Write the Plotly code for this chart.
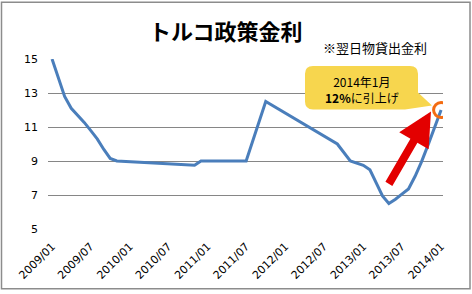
import plotly.graph_objects as go

# ---- data ----
dates = ["2009-01-01", "2009-02-01", "2009-03-01", "2009-04-01", "2009-05-01",
         "2009-06-01", "2009-07-01", "2009-08-01", "2009-09-01", "2009-10-01",
         "2009-11-01", "2010-11-01", "2010-12-01", "2011-07-01", "2011-10-01",
         "2012-09-01", "2012-11-01", "2012-12-01", "2013-01-01", "2013-02-01",
         "2013-03-01", "2013-04-01", "2013-05-01", "2013-06-01", "2013-07-01",
         "2013-08-01", "2013-09-01", "2013-10-01", "2013-11-01", "2013-12-01",
         "2014-01-01"]
rates = [15.0, 13.85, 12.8, 12.1, 11.72, 11.27, 10.8, 10.3, 9.68, 9.15,
         9.0, 8.75, 9.0, 9.0, 12.5,
         10.0, 9.0, 8.88, 8.75, 8.48,
         7.75, 6.95, 6.5, 6.75, 7.05,
         7.35, 8.1, 8.95, 9.95, 10.95,
         12.0]

tick_dates = ["2009-01-01", "2009-07-01", "2010-01-01", "2010-07-01", "2011-01-01",
              "2011-07-01", "2012-01-01", "2012-07-01", "2013-01-01", "2013-07-01",
              "2014-01-01"]
tick_text = ["2009/01", "2009/07", "2010/01", "2010/07", "2011/01", "2011/07",
             "2012/01", "2012/07", "2013/01", "2013/07", "2014/01"]
y_ticks = [5, 7, 9, 11, 13, 15]
y_grid = [5, 7, 9, 11, 13]

title_text = "トルコ政策金利"
note_text = "※翌日物貸出金利"
callout_text = "2014年1月<br><b>12%</b>に引上げ"

# ---- layout geometry (pixels) ----
WIDTH, HEIGHT = 472, 294
L, R, T, B = 48, 443, 59, 231
PW, PH = R - L, B - T


def px(x):
    return (x - L) / PW


def py(y):
    return (B - y) / PH


fig = go.Figure()
fig.add_trace(go.Scatter(
    x=dates, y=rates, mode="lines",
    line=dict(color="#4A7EBB", width=3),
    hoverinfo="skip", showlegend=False,
))

# callout bubble (rounded rect with tail)
bx0, bx1, by0, by1, r = 305, 418, 66, 110, 8
pts = [
    ("M", bx0 + r, by0),
    ("L", bx1 - r, by0),
    ("Q", bx1, by0, bx1, by0 + r),
    ("L", bx1, 93),
    ("L", 432, 106),
    ("L", 405, by1),
    ("L", bx0 + r, by1),
    ("Q", bx0, by1, bx0, by1 - r),
    ("L", bx0, by0 + r),
    ("Q", bx0, by0, bx0 + r, by0),
]
path = ""
for p in pts:
    cmd = p[0]
    coords = p[1:]
    s = []
    for i in range(0, len(coords), 2):
        s.append(f"{px(coords[i]):.5f},{py(coords[i+1]):.5f}")
    path += cmd + " " + " ".join(s) + " "
path += "Z"

shapes = [
    dict(type="rect", xref="paper", yref="paper",
         x0=px(1.5), x1=px(470), y0=py(291.5), y1=py(1.5),
         line=dict(color="#8C8C8C", width=1.5), fillcolor="rgba(0,0,0,0)",
         layer="below"),
    dict(type="path", xref="paper", yref="paper", path=path,
         fillcolor="#F7D64E", line=dict(width=0), layer="above"),
    dict(type="circle", xref="x", yref="y", xsizemode="pixel", ysizemode="pixel",
         xanchor=dates[-1], yanchor=rates[-1], x0=-7.5, x1=7.5, y0=-7.5, y1=7.5,
         line=dict(color="#F36C12", width=3), fillcolor="rgba(0,0,0,0)"),
]

annotations = [
    dict(text=f"<b>{title_text}</b>", xref="paper", yref="paper",
         x=px(226), y=py(30), xanchor="center", yanchor="middle", showarrow=False,
         font=dict(family="Noto Sans CJK JP", size=22, color="#000000")),
    dict(text=note_text, xref="paper", yref="paper",
         x=px(375), y=py(47), xanchor="center", yanchor="middle", showarrow=False,
         font=dict(family="Noto Sans CJK JP", size=13, color="#000000")),
    dict(text=callout_text, xref="paper", yref="paper",
         x=px(362), y=py(90), xanchor="center", yanchor="middle", showarrow=False,
         align="center",
         font=dict(family="Noto Sans CJK JP", size=12, color="#000000")),
    dict(text="", xref="paper", yref="paper", x=px(431), y=py(112),
         ax=-43, ay=74, showarrow=True, arrowhead=2, arrowsize=0.85,
         arrowwidth=8, arrowcolor="#E30000", standoff=0),
]

fig.update_layout(
    width=WIDTH, height=HEIGHT,
    margin=dict(l=L, r=WIDTH - R, t=T, b=HEIGHT - B, pad=0),
    paper_bgcolor="white", plot_bgcolor="white",
    shapes=shapes, annotations=annotations,
    xaxis=dict(
        type="date", range=["2008-12-13", "2014-01-10"],
        tickmode="array", tickvals=tick_dates, ticktext=tick_text,
        tickangle=-45, showgrid=False, zeroline=False, showline=False,
        ticks="", ticklabelstandoff=8,
        tickfont=dict(family="DejaVu Sans", size=11, color="#000000"),
    ),
    yaxis=dict(
        range=[5, 15], tickmode="array", tickvals=y_ticks,
        showgrid=False, zeroline=False, showline=False, ticks="",
        ticklabelstandoff=9,
        tickfont=dict(family="DejaVu Sans", size=11, color="#000000"),
        minor=dict(tickmode="array", tickvals=y_grid, showgrid=True,
                   gridcolor="#868686", gridwidth=1, ticks=""),
    ),
)

fig.write_html("out.html")
